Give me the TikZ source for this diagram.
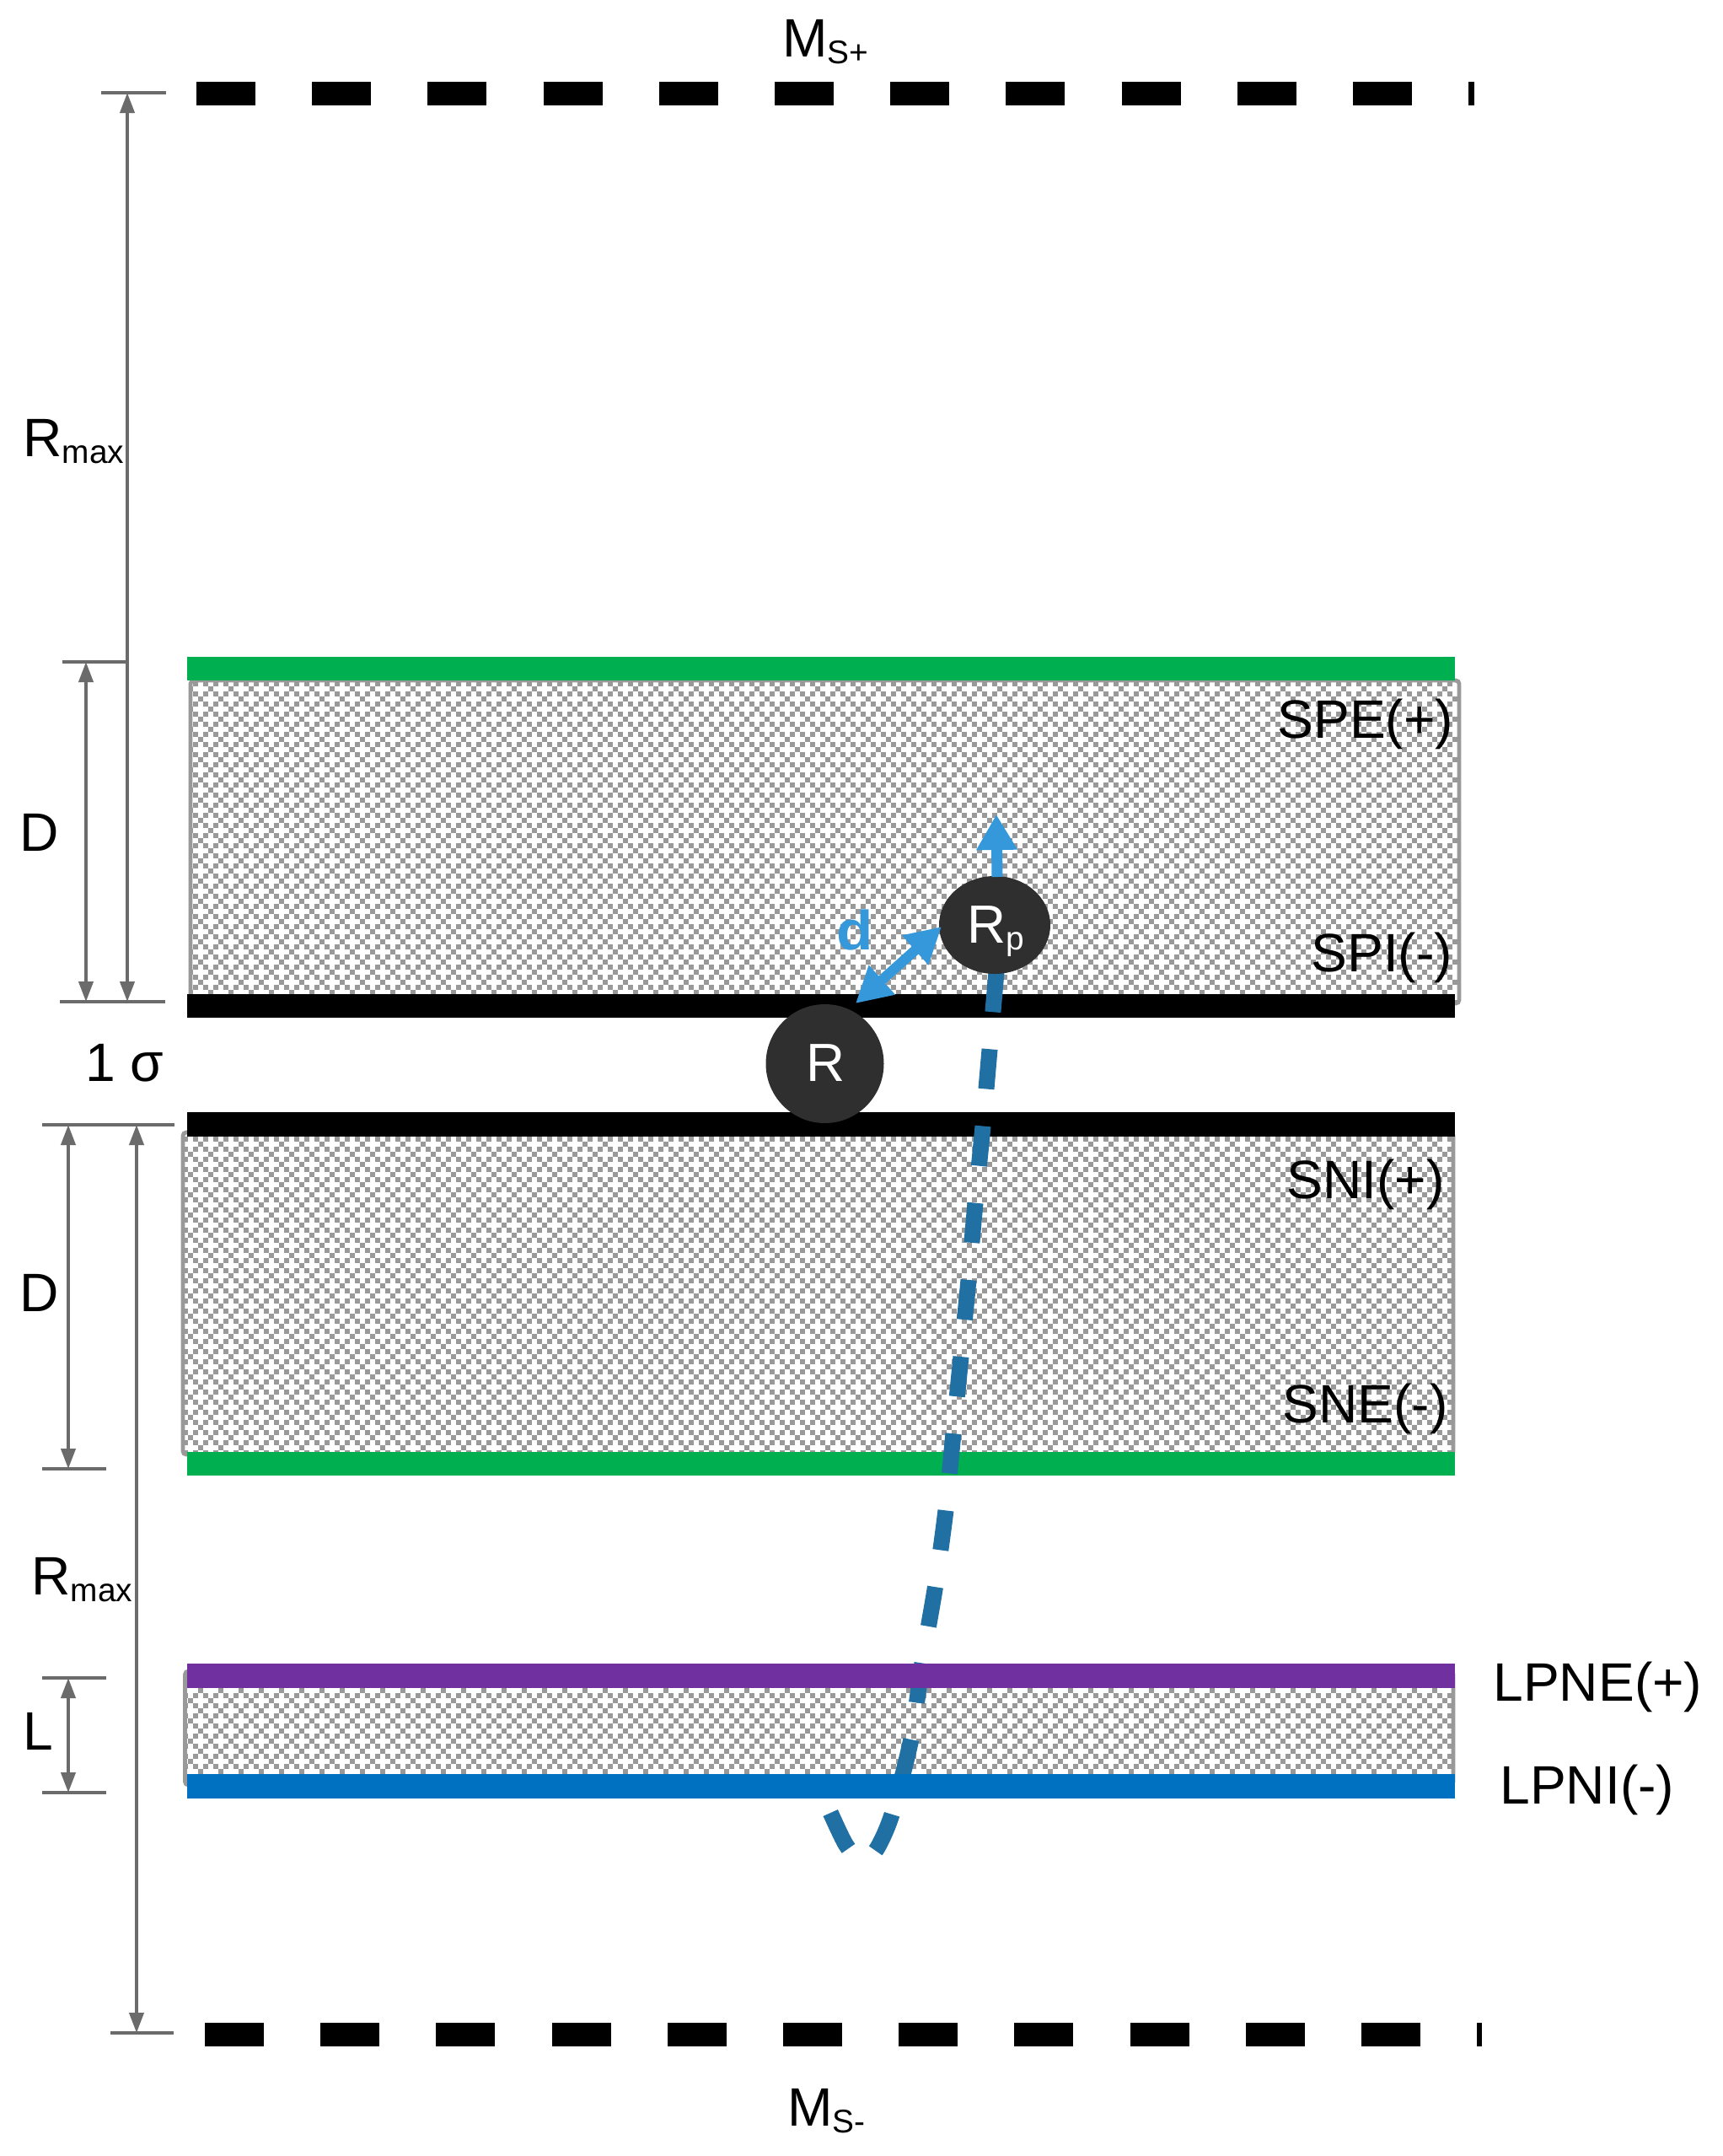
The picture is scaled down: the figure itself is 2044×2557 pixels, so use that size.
\documentclass[tikz,border=0pt]{standalone}
\usepackage{fontspec}
\setmainfont{Liberation Sans}
\usetikzlibrary{arrows.meta,shapes.geometric}
\definecolor{linegray}{HTML}{6B6B6B}
\definecolor{hatchgray}{HTML}{999999}
\definecolor{bandgreen}{HTML}{00B050}
\definecolor{bandpurple}{HTML}{7030A0}
\definecolor{bandblue}{HTML}{0070C0}
\definecolor{pathblue}{HTML}{2170A4}
\definecolor{arrowblue}{HTML}{3498DB}
\definecolor{ballgray}{HTML}{2F2F2F}
\newcommand{\Sb}[1]{\raisebox{-4bp}{\fontsize{19.5}{21}\selectfont #1}}
% x1 y1 x2 y2 (border box), first row y aligned to the tile
\newcommand{\hatchregion}[5]{%
  \begin{scope}
    \clip (#1,#2) rectangle (#3,#4);
    \pgfmathtruncatemacro{\nrows}{(#4-#5)/6+1}
    \foreach \k in {0,...,\nrows}{
      \pgfmathsetmacro{\ry}{#5+6*\k+3}
      \pgfmathtruncatemacro{\kk}{mod(\k,4)}
      \ifnum\kk=1
        \draw[hatchline,dash pattern=on 3bp off 9bp] (199,\ry) -- (#3+20,\ry);
      \else\ifnum\kk=3
        \draw[hatchline,dash pattern=on 3bp off 9bp] (211,\ry) -- (#3+20,\ry);
      \else
        \draw[hatchline,dash pattern=on 3bp off 3bp] (205,\ry) -- (#3+20,\ry);
      \fi\fi
    }
  \end{scope}
  \draw[hatchgray,line width=2.4bp,rounded corners=2bp] (#1,#2) rectangle (#3,#4);
}
\tikzset{
  x=0.5bp,y=-0.5bp,
  hatchline/.style={hatchgray,line width=3bp},
  dim/.style={linegray,line width=2bp,{Triangle[length=12bp,width=8.5bp]}-{Triangle[length=12bp,width=8.5bp]}},
  tick/.style={linegray,line width=2bp},
  msdash/.style={black,line width=14bp,dash pattern=on 35bp off 33.6bp},
  lab/.style={inner sep=0pt,anchor=base west,font=\fontsize{32.2}{36}\selectfont},
  ball/.style={ellipse,fill=ballgray,draw=none,inner sep=0pt},
  inball/.style={inner sep=0pt,anchor=base,text=white,font=\fontsize{32}{36}\selectfont},
  bluearrow/.style={arrowblue,line width=6bp},
}
\begin{document}
\begin{tikzpicture}
\useasboundingbox (0,0) rectangle (2044,2557);
\fill[white] (0,0) rectangle (2044,2557);
% hatched layers
\hatchregion{226}{807}{1731}{1190}{784}
\hatchregion{217}{1343}{1724}{1725}{1336}
\hatchregion{219.5}{1982}{1724}{2117}{1960}
% boundary bands under the path
\fill[bandgreen] (222,779) rectangle (1726,807);
\fill[black] (222,1179) rectangle (1726,1207);
\fill[black] (222,1319) rectangle (1726,1348);
\fill[bandgreen] (222,1722) rectangle (1726,1750);
% molecule trajectory
\draw[pathblue,line width=9.5bp,dash pattern=on 23.7bp off 22.1bp]
  plot[smooth,tension=0.45] coordinates {(1182,1153) (1174,1245) (1166,1336) (1157,1427) (1149,1518) (1140,1609) (1131,1700) (1122,1791) (1109.5,1882) (1094,1972) (1081,2062) (1058,2152) (1040,2193) (1022,2208) (1003,2187) (983,2145)};
\fill[bandpurple] (222,1973) rectangle (1726,2002);
\fill[bandblue] (222,2104) rectangle (1726,2133);
% M_S lines
\draw[msdash] (233,111) -- (1749,111);
\draw[msdash] (243,2412.5) -- (1758,2412.5);
% dimension lines
\coordinate (tA) at (120,110); \coordinate (tB) at (197,110);
\coordinate (tC) at (74,785);  \coordinate (tD) at (151,785);
\coordinate (tE) at (71,1188); \coordinate (tF) at (196,1188);
\coordinate (tG) at (50,1334); \coordinate (tH) at (207,1334);
\coordinate (tI) at (50,1742); \coordinate (tJ) at (126,1742);
\coordinate (tK) at (50,1990); \coordinate (tL) at (126,1990);
\coordinate (tM) at (50,2126); \coordinate (tN) at (126,2126);
\coordinate (tO) at (131,2411); \coordinate (tP) at (206,2411);
\foreach \a/\b in {tA/tB,tC/tD,tE/tF,tG/tH,tI/tJ,tK/tL,tM/tN,tO/tP}
  \draw[tick] (\a) -- (\b);
\draw[dim] (151,110) -- (151,1188);
\draw[dim] (102,785) -- (102,1188);
\draw[dim] (81,1334) -- (81,1742);
\draw[dim] (162,1334) -- (162,2411);
\draw[dim] (81,1990) -- (81,2126);
% balls
\node[ball,minimum width=70bp,minimum height=70.5bp] (R) at (978.5,1261.5) {};
\node[ball,minimum width=66bp,minimum height=58bp] (Rp) at (1180,1097) {};
\node[inball] (Rtxt) at (980,1282) {R};
\node[inball] (Rptxt) at (1181,1118) {R\Sb{p}};
% blue arrows
\coordinate (dA) at (1015,1190);
\coordinate (dB) at (1117,1099);
\coordinate (upA) at (1183,1040);
\coordinate (upB) at (1182,966);
\draw[bluearrow,{Triangle[length=21bp,width=22bp]}-{Triangle[length=21bp,width=22bp]}] (dA) -- (dB);
\draw[bluearrow,line width=6.5bp,-{Triangle[length=21bp,width=23bp]}] (upA) -- (upB);
\node[inner sep=0pt,anchor=base,text=arrowblue,font=\fontsize{33}{36}\selectfont\bfseries] (dlab) at (1014,1126) {\scalebox{1.08}[1]{d}};
% labels
\node[lab] (Msp) at (928,67) {M\Sb{S+}};
\node[lab] (Msm) at (934,2521) {M\Sb{S-}};
\node[lab] (Rm1) at (27,541) {R\Sb{max}};
\node[lab] (Rm2) at (37,1891) {R\Sb{max}};
\node[lab] (D1) at (23,1009) {D};
\node[lab] (D2) at (23,1555) {D};
\node[lab] (Ll) at (27,2075) {L};
\node[lab] (sig) at (101,1282) {1 σ};
\node[lab] (spe) at (1515,875) {SPE(+)};
\node[lab] (spi) at (1555,1152) {SPI(-)};
\node[lab] (sni) at (1526,1421) {SNI(+)};
\node[lab] (sne) at (1521,1687) {SNE(-)};
\node[lab] (lpne) at (1771,2017) {LPNE(+)};
\node[lab] (lpni) at (1779,2139) {LPNI(-)};
\end{tikzpicture}
\end{document}
